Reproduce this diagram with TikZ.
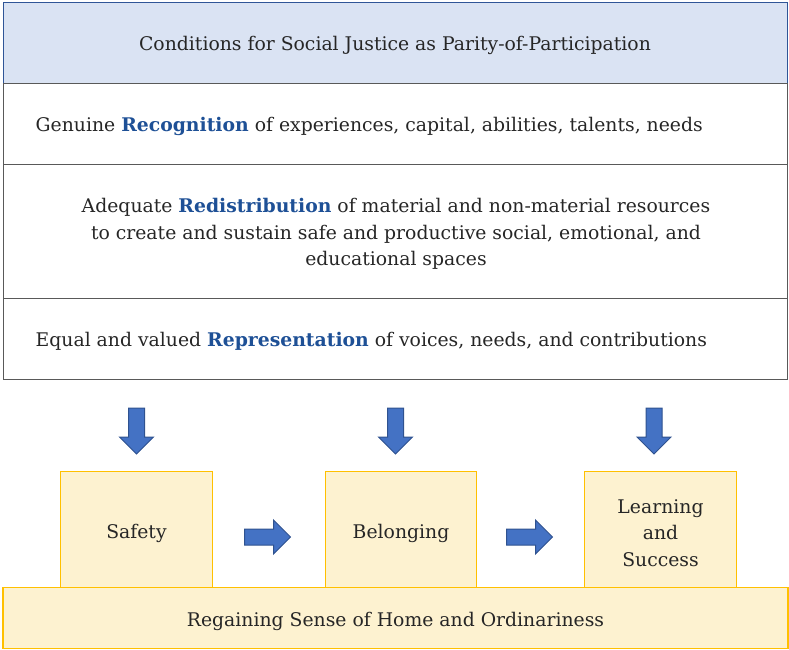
\documentclass[tikz,border=0pt]{standalone}
\usepackage{fontspec}
\setmainfont{DejaVu Serif}
\usetikzlibrary{shapes.arrows}
\definecolor{hdfill}{RGB}{218,227,243}
\definecolor{hdline}{RGB}{47,85,151}
\definecolor{rowline}{RGB}{89,89,89}
\definecolor{keyblue}{RGB}{30,80,150}
\definecolor{txt}{RGB}{38,38,38}
\definecolor{yfill}{RGB}{253,242,208}
\definecolor{yline}{RGB}{255,192,0}
\definecolor{afill}{RGB}{68,114,196}
\definecolor{aline}{RGB}{47,82,143}
\newcommand{\key}[1]{\textcolor{keyblue}{\bfseries #1}}

\begin{document}
\begin{tikzpicture}[x=1pt,y=-1pt,
		lbl/.style={text=txt,font=\fontsize{18.8}{26.7}\selectfont,inner sep=0pt},
		row/.style={draw=rowline,line width=1pt,minimum width=784,minimum height=81},
		block/.style={draw=yline,fill=yfill,line width=1.2pt},
		arr/.style={single arrow,draw=aline,fill=afill,line width=1pt,minimum width=0pt,minimum height=46,inner xsep=0pt,inner ysep=7.5pt,single arrow head extend=9pt,single arrow head indent=0pt}]
		\useasboundingbox (0,0) rectangle (789,649);
		\node[row,fill=hdfill,draw=hdline] (head) at (395,42.5) {};
		\node[row] (recog) at (395,123.5) {};
		\node[row,minimum height=134] (redis) at (395,231) {};
		\node[row] (repr) at (395,338.5) {};
		\node[lbl] (headl) at ([yshift=-3]head) {Conditions for Social Justice as Parity-of-Participation};
		\node[lbl,anchor=west] (recogl) at ([xshift=33,yshift=-3]recog.west) {Genuine \key{Recognition} of experiences, capital, abilities, talents, needs};
		\node[lbl,align=center] (redisl) at ([xshift=1,yshift=-3]redis) {Adequate \key{Redistribution} of material and non-material resources\\to create and sustain safe and productive social, emotional, and\\educational spaces};
		\node[lbl,anchor=west] (reprl) at ([xshift=33,yshift=-3]repr.west) {Equal and valued \key{Representation} of voices, needs, and contributions};
		\node[block,minimum width=151.5,minimum height=117] (safety) at (136.5,530) {};
		\node[block,minimum width=151.5,minimum height=117] (belong) at (401,530) {};
		\node[block,minimum width=151.5,minimum height=117] (learn) at (660.5,530) {};
		\node[block,minimum width=785,minimum height=61] (home) at (395.5,618) {};
		\node[lbl] (safetyl) at ([yshift=-3]safety) {Safety};
		\node[lbl] (belongl) at ([yshift=-3]belong) {Belonging};
		\node[lbl,align=center] (learnl) at ([yshift=-3]learn) {Learning\\and\\Success};
		\node[lbl] (homel) at ([yshift=-3]home) {Regaining Sense of Home and Ordinariness};
		\node[arr,rotate=-90] (down1) at (136.5,427) {};
		\node[arr,rotate=-90] (down2) at (395.5,427) {};
		\node[arr,rotate=-90] (down3) at (654,427) {};
		\node[arr] (right1) at (263.5,537) {};
		\node[arr] (right2) at (525.5,537) {};
	\end{tikzpicture}
\end{document}
